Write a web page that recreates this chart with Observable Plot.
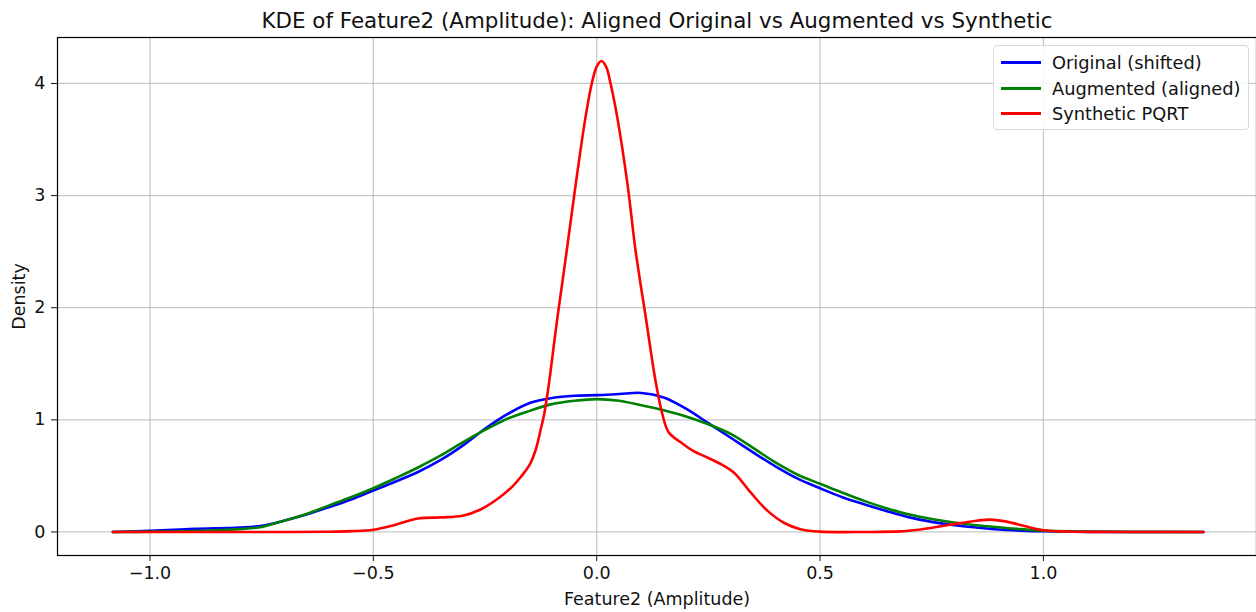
<!DOCTYPE html>
<html>
<head>
<meta charset="utf-8">
<script src="https://cdn.jsdelivr.net/npm/d3@7"></script>
<script src="https://cdn.jsdelivr.net/npm/@observablehq/plot@0.6"></script>
<style>
  body { margin: 0; background: #fff; }
  #wrap { position: relative; width: 1256px; height: 612px; font-family: "DejaVu Sans", sans-serif; }
  #legend { position: absolute; left: 993px; top: 45px; width: 256px; height: 85px; border: 1px solid #d9d9d9; border-radius: 4px; background: rgba(255,255,255,0.85); box-sizing: border-box; padding-top: 4px; }
  .item { display: flex; align-items: center; height: 25.5px; font-size: 17.8px; color: #111; }
  .sw { width: 40px; height: 2.6px; margin-left: 7px; margin-right: 11px; }
</style>
</head>
<body>
<div id="wrap"></div>
<script>
const title = "KDE of Feature2 (Amplitude): Aligned Original vs Augmented vs Synthetic";
const xLabel = "Feature2 (Amplitude)";
const yLabel = "Density";
const seriesNames = ["Original (shifted)", "Augmented (aligned)", "Synthetic PQRT"];
const seriesColors = ["#0000ff", "#008000", "#ff0000"];
const xTicks = [-1.0, -0.5, 0.0, 0.5, 1.0];
const yTicks = [0, 1, 2, 3, 4];

const origX = [-1.083, -1.0, -0.9, -0.8, -0.75, -0.7, -0.65, -0.6, -0.55, -0.5, -0.45, -0.4, -0.35, -0.3, -0.25, -0.2, -0.15, -0.1, -0.05, 0.0, 0.05, 0.1, 0.15, 0.2, 0.25, 0.3, 0.35, 0.4, 0.45, 0.5, 0.55, 0.6, 0.65, 0.7, 0.75, 0.8, 0.85, 0.9, 0.95, 1.0, 1.1, 1.2, 1.358];
const origY = [0, 0.01, 0.028, 0.04, 0.055, 0.10, 0.155, 0.22, 0.29, 0.37, 0.45, 0.535, 0.64, 0.77, 0.92, 1.05, 1.15, 1.195, 1.215, 1.22, 1.23, 1.24, 1.20, 1.10, 0.97, 0.84, 0.71, 0.585, 0.475, 0.39, 0.31, 0.245, 0.185, 0.13, 0.09, 0.06, 0.04, 0.022, 0.012, 0.006, 0.001, 0, 0];

const augX = [-1.083, -1.0, -0.9, -0.8, -0.75, -0.7, -0.65, -0.6, -0.55, -0.5, -0.45, -0.4, -0.35, -0.3, -0.25, -0.2, -0.15, -0.1, -0.05, 0.0, 0.05, 0.1, 0.15, 0.2, 0.25, 0.3, 0.35, 0.4, 0.45, 0.5, 0.55, 0.6, 0.65, 0.7, 0.75, 0.8, 0.85, 0.9, 0.95, 1.0, 1.1, 1.2, 1.358];
const augY = [0, 0.002, 0.008, 0.025, 0.045, 0.10, 0.16, 0.235, 0.31, 0.39, 0.48, 0.575, 0.68, 0.80, 0.91, 1.01, 1.08, 1.14, 1.17, 1.185, 1.17, 1.13, 1.085, 1.03, 0.96, 0.875, 0.75, 0.62, 0.51, 0.43, 0.35, 0.275, 0.21, 0.155, 0.115, 0.085, 0.06, 0.042, 0.025, 0.012, 0.003, 0.001, 0];

const synX = [-1.083, -0.7, -0.6, -0.55, -0.5, -0.45, -0.4, -0.35, -0.3, -0.26, -0.22, -0.19, -0.17, -0.15, -0.136, -0.125, -0.118, -0.107, -0.098, -0.088, -0.067, -0.047, -0.025, -0.011, 0.0, 0.0105, 0.021, 0.031, 0.046, 0.069, 0.087, 0.110, 0.132, 0.147, 0.161, 0.188, 0.217, 0.25, 0.28, 0.307, 0.345, 0.382, 0.42, 0.456, 0.5, 0.6, 0.68, 0.72, 0.754, 0.8, 0.85, 0.881, 0.92, 0.96, 1.0, 1.05, 1.1, 1.2, 1.358];
const synY = [0, 0, 0.002, 0.007, 0.02, 0.065, 0.12, 0.13, 0.145, 0.2, 0.30, 0.4, 0.49, 0.6, 0.74, 0.92, 1.04, 1.32, 1.6, 1.91, 2.51, 3.10, 3.70, 4.0, 4.15, 4.20, 4.15, 4.0, 3.7, 3.1, 2.51, 1.91, 1.34, 1.05, 0.89, 0.80, 0.72, 0.66, 0.60, 0.53, 0.35, 0.19, 0.08, 0.025, 0.003, 0, 0.005, 0.02, 0.04, 0.07, 0.10, 0.11, 0.09, 0.05, 0.015, 0.004, 0.001, 0, 0];

const rows = [];
[[origX, origY], [augX, augY], [synX, synY]].forEach(([xs, ys], i) => {
  xs.forEach((x, j) => rows.push({series: seriesNames[i], x, y: ys[j]}));
});

const chart = Plot.plot({
  width: 1256,
  height: 612,
  marginTop: 37,
  marginBottom: 57,
  marginLeft: 57,
  marginRight: 0,
  style: {fontFamily: "DejaVu Sans, sans-serif", fontSize: "17.5px", color: "#111", background: "#fff"},
  x: {domain: [-1.207, 1.477], ticks: xTicks, tickFormat: d3.format(".1f"), label: xLabel, labelAnchor: "center", labelArrow: "none", labelOffset: 49, tickSize: 6, tickPadding: 5},
  y: {domain: [-0.21, 4.41], ticks: yTicks, tickFormat: d3.format("d"), label: yLabel, labelAnchor: "center", labelArrow: "none", labelOffset: 45, tickSize: 6, tickPadding: 6},
  color: {domain: seriesNames, range: seriesColors},
  marks: [
    Plot.gridX(xTicks, {stroke: "#b0b0b0", strokeOpacity: 0.7, strokeWidth: 1.3}),
    Plot.gridY(yTicks, {stroke: "#b0b0b0", strokeOpacity: 0.7, strokeWidth: 1.3}),
    Plot.line(rows, {x: "x", y: "y", z: "series", stroke: "series", strokeWidth: 2.6, curve: "catmull-rom"}),
    Plot.frame({stroke: "#000", strokeWidth: 1.2}),
    Plot.text([title], {text: d => d, frameAnchor: "top", dy: -25, fontSize: 21.4, fill: "#111"})
  ]
});
const wrap = document.getElementById("wrap");
wrap.appendChild(chart);

const legend = document.createElement("div");
legend.id = "legend";
seriesNames.forEach((name, i) => {
  const it = document.createElement("div");
  it.className = "item";
  const sw = document.createElement("div");
  sw.className = "sw";
  sw.style.background = seriesColors[i];
  const tx = document.createElement("span");
  tx.textContent = name;
  it.appendChild(sw);
  it.appendChild(tx);
  legend.appendChild(it);
});
wrap.appendChild(legend);
</script>
</body>
</html>
